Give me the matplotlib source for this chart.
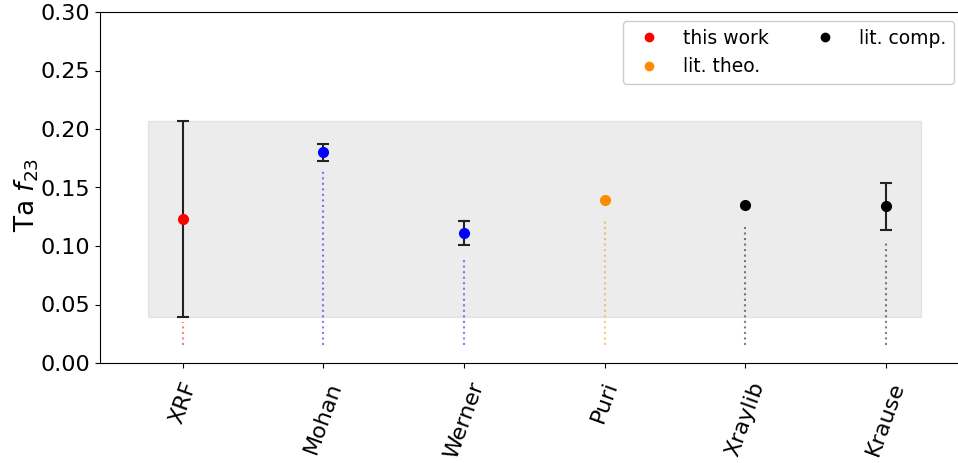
import numpy as np
import matplotlib.pyplot as plt

labels = ['XRF', 'Mohan', 'Werner', 'Puri', 'Xraylib', 'Krause']
values = [0.123, 0.180, 0.111, 0.139, 0.135, 0.134]
errors = [0.084, 0.007, 0.010, 0.0, 0.0, 0.020]
colors = ['red', 'blue', 'blue', 'darkorange', 'black', 'black']
line_top = [0.035, 0.165, 0.091, 0.124, 0.119, 0.105]
line_bottom = 0.015

fig = plt.figure(figsize=(9.58, 4.63), dpi=100)
ax = fig.add_axes([100/958, 100/463, 863/958, 351/463])

x = np.arange(len(labels))

# shaded band = range of this work
lo = values[0] - errors[0]
hi = values[0] + errors[0]
ax.fill_between([-0.25, len(labels) - 0.75], lo, hi, color='gray', alpha=0.15)

for i in range(len(labels)):
    ax.plot([x[i], x[i]], [line_bottom, line_top[i]], ':', color=colors[i], alpha=0.5, lw=1.5)
    if errors[i] > 0:
        ax.errorbar(x[i], values[i], yerr=errors[i], fmt='none', ecolor='#222222',
                    capsize=4, elinewidth=1.5, capthick=1.5)
    ax.plot(x[i], values[i], 'o', color=colors[i], ms=7)

# legend handles
ax.plot([], [], 'o', color='red', ms=6, label='this work')
ax.plot([], [], 'o', color='darkorange', ms=6, label='lit. theo.')
ax.plot([], [], 'o', color='black', ms=6, label='lit. comp.')
ax.legend(loc='upper right', ncol=2, fontsize=13.5, framealpha=1)

ax.set_xlim(-0.59, 5.55)
ax.set_ylim(0, 0.3)
ax.set_yticks(np.arange(0, 0.31, 0.05))
ax.set_xticks(x)
ax.set_xticklabels(labels, rotation=70, fontsize=16)
ax.tick_params(axis='x', pad=8)
ax.tick_params(axis='y', labelsize=16)
ax.set_ylabel('Ta $f_{23}$', fontsize=19)
ax.yaxis.set_label_coords(-0.068, 0.479)

plt.savefig('out.png', dpi=100)
